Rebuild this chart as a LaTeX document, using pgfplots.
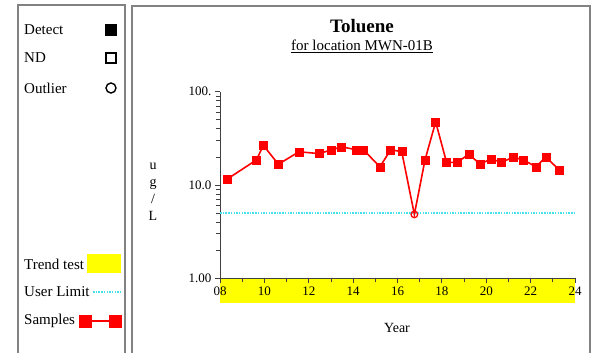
\documentclass[border=0pt]{standalone}
\usepackage{fontspec}
\setmainfont{Liberation Serif}
\usepackage{pgfplots}
\pgfplotsset{compat=1.18}

\definecolor{boxgray}{RGB}{130,130,130}
\definecolor{userlim}{RGB}{70,225,235}
\definecolor{trend}{RGB}{255,255,0}

\pgfplotstableread{
year   val
8.33   11.6
9.65   18.6
9.95   26.7
10.63  16.7
11.56  22.7
12.46  21.7
13.03  23.8
13.48  25.7
14.16  23.8
14.46  23.8
15.21  15.7
15.69  23.8
16.19  22.8
16.76  4.84
17.24  18.6
17.72  47.5
18.21  17.5
18.69  17.5
19.22  21.4
19.72  16.7
20.21  19.0
20.69  17.5
21.22  19.9
21.67  18.6
22.23  15.7
22.69  19.9
23.29  14.5
}\samples

\pgfplotstableread{
year   val
8.33   11.6
9.65   18.6
9.95   26.7
10.63  16.7
11.56  22.7
12.46  21.7
13.03  23.8
13.48  25.7
14.16  23.8
14.46  23.8
15.21  15.7
15.69  23.8
16.19  22.8
17.24  18.6
17.72  47.5
18.21  17.5
18.69  17.5
19.22  21.4
19.72  16.7
20.21  19.0
20.69  17.5
21.22  19.9
21.67  18.6
22.23  15.7
22.69  19.9
23.29  14.5
}\detects

\begin{document}
\begin{tikzpicture}[x=1pt,y=1pt]
\useasboundingbox (0,0) rectangle (593,353);

% panel frames
\draw[boxgray, line width=2.4pt] (18,0) -- (18,348) -- (125,348) -- (125,0);
\draw[boxgray, line width=2.4pt] (132,0) -- (132,347) -- (590,347) -- (590,0);

% legend panel
\begin{scope}[font=\fontsize{15}{17}\selectfont]
\node[anchor=west, inner sep=0] at (24,323) {Detect};
\node[anchor=west, inner sep=0] at (24,295) {ND};
\node[anchor=west, inner sep=0] at (24,265) {Outlier};
\node[anchor=west, inner sep=0] at (24,89) {Trend test};
\node[anchor=west, inner sep=0] at (24,61) {User Limit};
\node[anchor=west, inner sep=0] at (24,32) {Samples};
\end{scope}
\fill[black] (105,317) rectangle (117,329);
\draw[black, line width=1.4pt] (106,290) rectangle (116,300);
\draw[black, line width=1.4pt] (111,265) circle (5);
\fill[trend] (87,80) rectangle (121,99);
\draw[userlim, line width=1.5pt, dash pattern=on 1.5pt off 1.2pt] (93,61) -- (121,61);
\draw[red, line width=1.4pt] (85,32) -- (115,32);
\fill[red] (78.5,25.5) rectangle (91.5,38.5);
\fill[red] (108.5,25.5) rectangle (121.5,38.5);

% titles
\node[font=\fontsize{19}{21}\selectfont\bfseries] at (362,327) {Toluene};
\node[font=\fontsize{15}{17}\selectfont] at (362,307) {\underline{for location MWN-01B}};
\node[font=\fontsize{14}{16}\selectfont] at (397,25) {Year};
\node[font=\fontsize{14}{17}\selectfont, align=center] at (153,161) {u\\g\\/\\L};

% trend test band under the time axis
\fill[trend] (220,50) rectangle (575,74.7);

\begin{axis}[
    at={(220pt,74.7pt)}, anchor=south west,
    scale only axis,
    width=355pt, height=186.6pt,
    xmin=8, xmax=24,
    ymin=1, ymax=100,
    ymode=log,
    axis x line=bottom, axis y line=left,
    axis line style={-, black!75, line width=1pt},
    xtick={8,10,...,24},
    xticklabels={08,10,12,14,16,18,20,22,24},
    minor xtick={9,11,...,23},
    ytick={1,10,100},
    yticklabels={1.00,10.0,100.},
    tick align=outside,
    major tick length=5pt, minor tick length=4pt,
    tick style={black!75, line width=0.8pt},
    ticklabel style={font=\fontsize{13}{13}\selectfont},
    clip=false,
]
\addplot[userlim, line width=1.5pt, dash pattern=on 1.5pt off 1.2pt] coordinates {(8,5) (24,5)};
\addplot[red, line width=1.6pt, no marks] table[x=year, y=val] {\samples};
\addplot[red, only marks, mark=square*, mark size=4pt] table[x=year, y=val] {\detects};
\addplot[red, only marks, mark=o, mark size=3.3pt, mark options={line width=1.3pt, fill=white}] coordinates {(16.76,4.84)};
\end{axis}
\end{tikzpicture}
\end{document}
